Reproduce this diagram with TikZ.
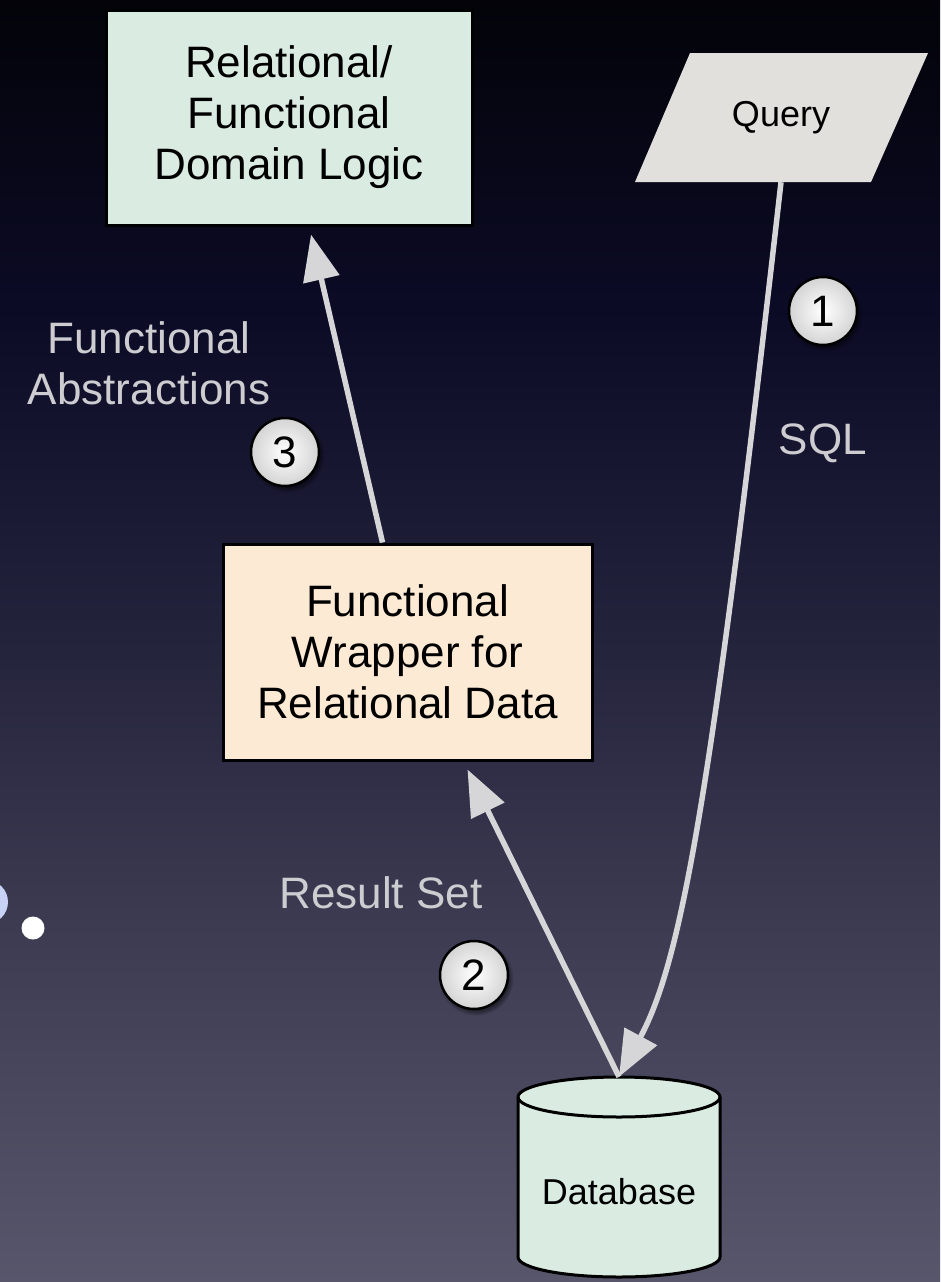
\documentclass[tikz,border=0pt]{standalone}
\usepackage{fontspec}
\setmainfont{Liberation Sans}
\usetikzlibrary{arrows.meta,shadows,calc}

\definecolor{bgA}{HTML}{030309}
\definecolor{bgB}{HTML}{0C0B26}
\definecolor{bgC}{HTML}{25243D}
\definecolor{bgD}{HTML}{3A3950}
\definecolor{bgE}{HTML}{58566B}
\definecolor{mint}{HTML}{DAEBE1}
\definecolor{peach}{HTML}{FDEAD5}
\definecolor{paper}{HTML}{E2E0DC}
\definecolor{wire}{HTML}{D6D6D9}
\definecolor{caption}{HTML}{CCCCD1}
\definecolor{lavender}{HTML}{C8D2F7}

% backdrop: dark navy at the top fading to a grey violet at the bottom
\pgfdeclareverticalshading{backdrop}{100bp}{%
  color(0bp)=(bgE); color(25bp)=(bgE); color(39.9bp)=(bgD);
  color(49.6bp)=(bgC); color(62.9bp)=(bgB); color(75bp)=(bgA); color(100bp)=(bgA)}

\tikzset{
  box/.style={draw=black, line width=3pt, inner sep=0pt, align=center,
    font=\fontsize{44}{51}\selectfont},
  conn/.style={draw=wire, line width=5.5pt,
    -{Triangle[length=46pt,width=36pt]}},
  lbl/.style={text=caption, align=center, inner sep=0pt,
    font=\fontsize{44}{51}\selectfont},
  badge/.style={circle, draw=black, line width=2.5pt, minimum size=68pt,
    inner sep=0pt, inner color=white, outer color=black!17,
    circular drop shadow={shadow xshift=2pt, shadow yshift=-3pt, opacity=0.45, fill=black},
    font=\fontsize{44}{44}\selectfont},
}

\begin{document}
\begin{tikzpicture}[x=1pt, y=-1pt]
  \useasboundingbox (0,0) rectangle (940,1282);
  \clip (0,0) rectangle (940,1282);
  \shade[shading=backdrop] (0,0) rectangle (940,1282);

  % fragments at the left edge
  \fill[lavender] (-14,902) circle (22);
  \fill[white] (33,928) circle (11.5);

  % boxes
  \node[box, fill=mint, minimum width=366pt, minimum height=215pt]
    (domain) at (289,117.5) {Relational/\\Functional\\Domain Logic};
  \node[box, fill=peach, minimum width=369pt, minimum height=216pt]
    (wrapper) at (407.5,652) {Functional\\Wrapper for\\Relational Data};

  % query parallelogram
  \fill[paper] (690,53) -- (928,53) -- (871,182) -- (635,182) -- cycle;
  \node[inner sep=0pt, minimum width=236pt, minimum height=129pt,
    font=\fontsize{36}{40}\selectfont] (query) at (781,117.5) {Query};

  % database cylinder
  \filldraw[fill=mint, draw=black, line width=3pt, line join=round]
    (518,1097) -- (518,1257)
    .. controls (518,1268) and (563,1277) .. (619,1277)
    .. controls (675,1277) and (720,1268) .. (720,1257)
    -- (720,1097)
    .. controls (720,1086) and (675,1077) .. (619,1077)
    .. controls (563,1077) and (518,1086) .. (518,1097) -- cycle;
  \draw[black, line width=3pt]
    (518,1097) .. controls (518,1108) and (563,1117) .. (619,1117)
    .. controls (675,1117) and (720,1108) .. (720,1097);
  \node[inner sep=0pt, minimum width=202pt, minimum height=230pt,
    font=\fontsize{36}{40}\selectfont] (db) at (619,1192) {Database};

  % connectors
  \draw[conn] (query.south) .. controls (712,790) and (682,960) .. (db.north);
  \draw[conn] (db.north) -- ($(wrapper.south)+(60,8)$);
  \draw[conn] ($(wrapper.north)+(-25,0)$) -- ($(domain.south)+(22,8)$);

  % labels
  \node[lbl] (abstr) at (149,363.5) {Functional\\Abstractions};
  \node[lbl] (sql) at (823,443) {SQL};
  \node[lbl] (result) at (381,893) {Result Set};

  % step badges
  \node[badge] (c1) at (823,311) {1};
  \node[badge] (c3) at (285,452) {3};
  \node[badge] (c2) at (474,975) {2};
\end{tikzpicture}
\end{document}
